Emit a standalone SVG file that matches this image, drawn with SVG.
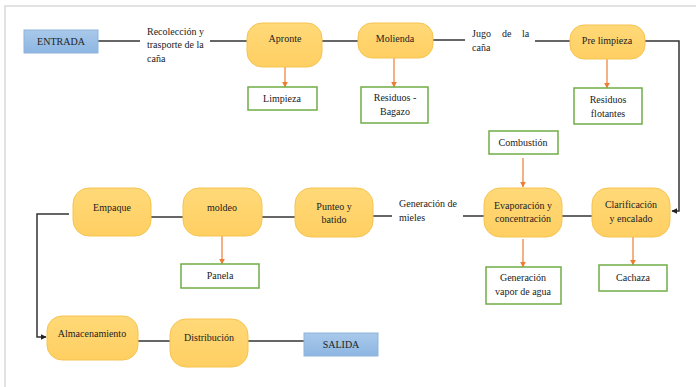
<svg xmlns="http://www.w3.org/2000/svg" width="696" height="387" viewBox="0 0 696 387">
<style>
text{font-size:10px;fill:#222}
.c{text-anchor:middle}
.proc{fill:url(#gOr);stroke:#f5c451;stroke-width:1}
.io{fill:url(#gBl);stroke:#8fb3dc;stroke-width:1}
.out{fill:#fff;stroke:#70ad47;stroke-width:1.5}
.ln{fill:none;stroke:#333;stroke-width:1.5}
.ar{fill:none;stroke:#ed7d31;stroke-width:1.2;marker-end:url(#mO)}
</style>
<defs>
<linearGradient id="gOr" x1="0" y1="0" x2="0" y2="1"><stop offset="0" stop-color="#ffd978"/><stop offset="1" stop-color="#ffcf62"/></linearGradient>
<linearGradient id="gBl" x1="0" y1="0" x2="0" y2="1"><stop offset="0" stop-color="#a9c9ea"/><stop offset="1" stop-color="#8db6e2"/></linearGradient>
<marker id="mO" viewBox="0 0 10 10" refX="9" refY="5" markerWidth="5" markerHeight="5" orient="auto"><path d="M0,0L10,5L0,10z" fill="#ed7d31"/></marker>
<marker id="mK" viewBox="0 0 10 10" refX="9" refY="5" markerWidth="4" markerHeight="4" orient="auto"><path d="M0,0L10,5L0,10z" fill="#222"/></marker>
</defs>
<rect width="696" height="387" fill="#fff"/>
<path d="M5,387V6H696" fill="none" stroke="#d9d9d9" stroke-width="1.5"/>
<g font-family="Liberation Serif, Tinos, DejaVu Serif, serif">
<g id="connectors">
<path class="ln" d="M98,41H140"/>
<path class="ln" d="M210,41H248"/>
<path class="ln" d="M322,41H359"/>
<path class="ln" d="M433,40H465"/>
<path class="ln" d="M535,41H571"/>
<path class="ln" d="M645,41H679V211H672" marker-end="url(#mK)"/>
<path class="ln" d="M562,216H592"/>
<path class="ln" d="M463,216H484"/>
<path class="ln" d="M373,216H392"/>
<path class="ln" d="M262,217H295"/>
<path class="ln" d="M151,217H183"/>
<path class="ln" d="M69,214H37V337H46" marker-end="url(#mK)"/>
<path class="ln" d="M138,341H170"/>
<path class="ln" d="M248,341H304"/>
<path class="ar" d="M285,67V87"/>
<path class="ar" d="M394,58V87"/>
<path class="ar" d="M607,59V88"/>
<path class="ar" d="M523,158V187"/>
<path class="ar" d="M633,237V265"/>
<path class="ar" d="M523,239V267"/>
<path class="ar" d="M222,236V264"/>
<text x="147" y="35">Recolección y</text>
<text x="147" y="48">trasporte de la</text>
<text x="147" y="62">caña</text>
<text y="37"><tspan x="472">Jugo</tspan><tspan x="502">de</tspan><tspan x="522">la</tspan></text>
<text x="472" y="51">caña</text>
<text x="399" y="207">Generación de</text>
<text x="399" y="221">mieles</text>
</g>

<g id="entrada"><rect class="io" x="24" y="30" width="74" height="23"/><text class="c" x="61" y="45">ENTRADA</text></g>
<g id="apronte"><rect class="proc" x="247" y="23" width="75" height="44" rx="15"/><text class="c" x="285" y="42">Apronte</text></g>
<g id="limpieza"><rect class="out" x="248" y="87" width="69" height="23"/><text class="c" x="282" y="102">Limpieza</text></g>
<g id="molienda"><rect class="proc" x="358" y="23" width="75" height="35" rx="14"/><text class="c" x="395" y="42">Molienda</text></g>
<g id="bagazo"><rect class="out" x="361" y="87" width="67" height="36"/><text class="c" x="395" y="101">Residuos -</text><text class="c" x="395" y="115">Bagazo</text></g>
<g id="prelimpieza"><rect class="proc" x="570" y="25" width="75" height="34" rx="14"/><text class="c" x="607" y="44">Pre limpieza</text></g>
<g id="flotantes"><rect class="out" x="574" y="88" width="68" height="36"/><text class="c" x="608" y="103">Residuos</text><text class="c" x="608" y="117">flotantes</text></g>
<g id="combustion"><rect class="out" x="489" y="131" width="69" height="23"/><text class="c" x="523" y="146">Combustión</text></g>
<g id="evaporacion"><rect class="proc" x="484" y="188" width="78" height="49" rx="16"/><text class="c" x="523" y="209">Evaporación y</text><text class="c" x="523" y="222">concentración</text></g>
<g id="clarificacion"><rect class="proc" x="592" y="188" width="78" height="49" rx="16"/><text class="c" x="631" y="208">Clarificación</text><text class="c" x="631" y="222">y encalado</text></g>
<g id="cachaza"><rect class="out" x="599" y="265" width="68" height="26"/><text class="c" x="633" y="281">Cachaza</text></g>
<g id="vapor"><rect class="out" x="486" y="267" width="75" height="37"/><text class="c" x="523" y="281">Generación</text><text class="c" x="523" y="295">vapor de agua</text></g>
<g id="punteo"><rect class="proc" x="295" y="188" width="78" height="49" rx="16"/><text class="c" x="334" y="210">Punteo y</text><text class="c" x="334" y="223">batido</text></g>
<g id="moldeo"><rect class="proc" x="183" y="188" width="79" height="48" rx="16"/><text class="c" x="222" y="211">moldeo</text></g>
<g id="panela"><rect class="out" x="181" y="264" width="78" height="24"/><text class="c" x="220" y="279">Panela</text></g>
<g id="empaque"><rect class="proc" x="73" y="188" width="78" height="48" rx="16"/><text class="c" x="112" y="211">Empaque</text></g>
<g id="almacenamiento"><rect class="proc" x="47" y="316" width="91" height="44" rx="15"/><text class="c" x="92" y="337">Almacenamiento</text></g>
<g id="distribucion"><rect class="proc" x="170" y="319" width="78" height="48" rx="16"/><text class="c" x="209" y="341">Distribución</text></g>
<g id="salida"><rect class="io" x="304" y="333" width="74" height="23"/><text class="c" x="341" y="348">SALIDA</text></g>
</g>
</svg>
